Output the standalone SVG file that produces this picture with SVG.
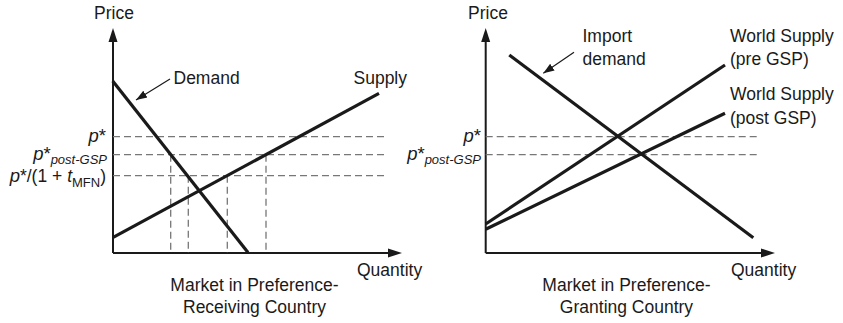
<svg xmlns="http://www.w3.org/2000/svg" width="843" height="323" viewBox="0 0 843 323">
<style>
text{font-family:"Liberation Sans",Arial,sans-serif;font-size:17.5px;fill:#1a1a1a}
.plab{font-size:18.5px}
.it{font-style:italic}
.sub{font-size:13px}
.axis{stroke:#1a1a1a;stroke-width:2;fill:none}
.curve{stroke:#1a1a1a;stroke-width:3.2;fill:none;stroke-linecap:butt}
.dash{stroke:#777;stroke-width:1.3;stroke-dasharray:7,4;fill:none}
.ptr{stroke:#1a1a1a;stroke-width:1.2;fill:none}
</style>
<defs>
<marker id="ah" markerWidth="12" markerHeight="10" refX="11" refY="5" orient="auto" markerUnits="userSpaceOnUse">
<path d="M0,1 L11,5 L0,9 Z" fill="#1a1a1a"/>
</marker>
</defs>
<g id="left-panel">
<g id="left-axes">
<path class="axis" d="M113,253 V40 M113,253 H388"/>
<path d="M113,28 L108.5,42 L117.5,42 Z" fill="#1a1a1a"/>
<path d="M402,253 L388,248.5 L388,257.5 Z" fill="#1a1a1a"/>
<text x="114" y="18.5" text-anchor="middle" font-size="16.5">Price</text>
<text x="357" y="276">Quantity</text>
</g>
<g id="left-dashes">
<path class="dash" d="M113,136.7 H386 M113,154.7 H386 M113,175.7 H386"/>
<path class="dash" d="M170.7,154.7 V253 M188.3,175.7 V253 M227.3,175.7 V253 M266,154.7 V253"/>
</g>
<g id="left-demand">
<path class="curve" d="M112.7,81 L248,252.5"/>
<text x="173.5" y="83.5">Demand</text>
</g>
<g id="left-supply">
<path class="curve" d="M112.7,237.7 L379,93.3"/>
<text x="353.5" y="83.5">Supply</text>
</g>
<g id="left-labels">
<text class="plab" x="106" y="142" text-anchor="end"><tspan class="it">p</tspan>*</text>
<text class="plab" x="107" y="159.5" text-anchor="end"><tspan class="it">p</tspan>*<tspan class="it sub" dy="4.5">post-GSP</tspan></text>
<text x="106" y="181.5" text-anchor="end"><tspan class="it plab">p</tspan>*/(1 + <tspan class="it">t</tspan><tspan class="sub" dy="5">MFN</tspan><tspan dy="-5">)</tspan></text>
<text x="254.5" y="290.5" text-anchor="middle">Market in Preference-</text>
<text x="254.5" y="312.5" text-anchor="middle">Receiving Country</text>
</g>
</g>
<g id="right-panel">
<g id="right-axes">
<path class="axis" d="M485.7,253 V40 M485.7,253 H762"/>
<path d="M485.7,28 L481.2,42 L490.2,42 Z" fill="#1a1a1a"/>
<path d="M775,253 L761,248.5 L761,257.5 Z" fill="#1a1a1a"/>
<text x="488" y="18.5" text-anchor="middle" font-size="16.5">Price</text>
<text x="731" y="276">Quantity</text>
</g>
<g id="right-dashes">
<path class="dash" d="M485.7,136.7 H758 M485.7,154.7 H758"/>
</g>
<g id="import-demand">
<path class="curve" d="M509.3,55 L753.3,237.7"/>
<text x="582.5" y="41.7">Import</text>
<text x="582.5" y="65">demand</text>
</g>
<g id="world-supply-pre">
<path class="curve" d="M485.7,224 L725,65"/>
<text x="730" y="41.7">World Supply</text>
<text x="730" y="65">(pre GSP)</text>
</g>
<g id="world-supply-post">
<path class="curve" d="M485.7,229.3 L725,113.3"/>
<text x="730" y="100">World Supply</text>
<text x="730" y="124">(post GSP)</text>
</g>
<g id="right-labels">
<text class="plab" x="481" y="142" text-anchor="end"><tspan class="it">p</tspan>*</text>
<text class="plab" x="481" y="159.5" text-anchor="end"><tspan class="it">p</tspan>*<tspan class="it sub" dy="4.5">post-GSP</tspan></text>
<text x="626.5" y="290.5" text-anchor="middle">Market in Preference-</text>
<text x="626.5" y="312.5" text-anchor="middle">Granting Country</text>
</g>
</g>
<g id="connectors">
<path class="ptr" d="M170,79 L136,100" marker-end="url(#ah)"/>
<path class="ptr" d="M574,52.3 L543.3,73.3" marker-end="url(#ah)"/>
</g>
</svg>
